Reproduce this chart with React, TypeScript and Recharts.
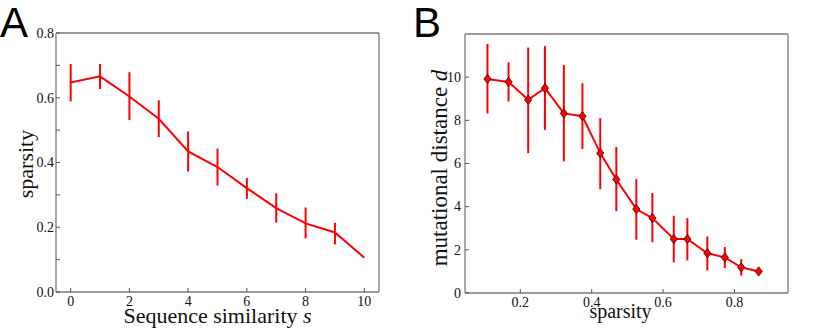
import React from 'react';
import { LineChart, Line, XAxis, YAxis, ErrorBar } from 'recharts';

// panel A: sparsity vs sequence similarity
const similarity = [0, 1, 2, 3, 4, 5, 6, 7, 8, 9, 10];
const sparsityMean = [0.647, 0.666, 0.604, 0.535, 0.434, 0.386, 0.321, 0.259, 0.212, 0.184, 0.106];
const sparsityLow = [0.589, 0.627, 0.531, 0.478, 0.372, 0.329, 0.288, 0.214, 0.165, 0.147, 0.106];
const sparsityHigh = [0.704, 0.704, 0.679, 0.592, 0.496, 0.443, 0.352, 0.305, 0.261, 0.214, 0.106];
const aXTicks = [0, 2, 4, 6, 8, 10];
const aYTicks = [0, 0.1, 0.2, 0.3, 0.4, 0.5, 0.6, 0.7, 0.8];
const aYLabelled = [0, 0.2, 0.4, 0.6, 0.8];

// panel B: mutational distance vs sparsity
const bSparsity = [0.108, 0.167, 0.222, 0.269, 0.322, 0.374, 0.424, 0.469, 0.525, 0.57, 0.63, 0.668, 0.724, 0.773, 0.819, 0.868];
const distMean = [9.92, 9.78, 8.95, 9.49, 8.32, 8.19, 6.48, 5.26, 3.89, 3.47, 2.5, 2.5, 1.84, 1.65, 1.19, 1.0];
const distLow = [8.32, 8.87, 6.48, 7.56, 6.1, 6.67, 4.81, 3.8, 2.47, 2.35, 1.42, 1.51, 1.05, 1.16, 0.8, 1.0];
const distHigh = [11.54, 10.69, 11.37, 11.44, 10.56, 9.72, 8.1, 6.76, 5.28, 4.63, 3.58, 3.47, 2.62, 2.13, 1.57, 1.0];
const bXTicks = [0.2, 0.4, 0.6, 0.8];
const bYTicks = [0, 2, 4, 6, 8, 10];

const dataA = similarity.map((s, i) => ({
  s,
  v: sparsityMean[i],
  err: [sparsityMean[i] - sparsityLow[i], sparsityHigh[i] - sparsityMean[i]],
}));

const dataB = bSparsity.map((x, i) => ({
  x,
  v: distMean[i],
  err: [distMean[i] - distLow[i], distHigh[i] - distMean[i]],
}));

const SERIF = '"Liberation Serif", "DejaVu Serif", serif';
const RED = '#ff0000';
const SPINE = '#7a7a7a';

// tick text drawn by hand so the serif font sticks
const makeTick = (side: 'bottom' | 'left', fmt: (v: number) => string) => (props: any) => {
  const { x, y, payload } = props;
  return (
    <text
      x={x}
      y={y}
      dy={side === 'bottom' ? '0.72em' : '0.34em'}
      textAnchor={side === 'bottom' ? 'middle' : 'end'}
      fontFamily={SERIF}
      fontSize={14}
      fill="#111"
    >
      {fmt(payload.value)}
    </text>
  );
};

const Diamond = (props: any) => {
  const { cx, cy, index } = props;
  if (cx == null || cy == null) return <g key={`d-${index}`} />;
  const w = 3.6;
  const h = 4.6;
  return (
    <polygon
      key={`d-${index}`}
      points={`${cx},${cy - h} ${cx + w},${cy} ${cx},${cy + h} ${cx - w},${cy}`}
      fill={RED}
      stroke="#3a0000"
      strokeWidth={0.8}
    />
  );
};

const xLabel = (parts: React.ReactNode, baseline: number, size: number, shift = 0) => (props: any) => {
  const vb = props.viewBox;
  return (
    <text x={vb.x + vb.width / 2 + shift} y={baseline} textAnchor="middle" fontFamily={SERIF} fontSize={size} fill="#111">
      {parts}
    </text>
  );
};

const yLabel = (parts: React.ReactNode, baseX: number, centerY: number, size: number) => () => (
  <text
    x={baseX}
    y={centerY}
    transform={`rotate(-90 ${baseX} ${centerY})`}
    textAnchor="middle"
    fontFamily={SERIF}
    fontSize={size}
    fill="#111"
  >
    {parts}
  </text>
);

const spine = { stroke: SPINE, strokeWidth: 1.3 };
const tickMark = { stroke: '#555' };
const fmtA = (v: number) => (aYLabelled.some((t) => Math.abs(t - v) < 1e-6) ? v.toFixed(1) : '');

const PanelA = () => (
  <LineChart width={400} height={335} data={dataA} margin={{ top: 32, right: 20, bottom: 0, left: 0 }}>
    <XAxis
      dataKey="s"
      type="number"
      domain={[-0.5, 10.5]}
      allowDataOverflow
      ticks={aXTicks}
      tickSize={-4}
      tickMargin={8}
      tick={makeTick('bottom', (v) => String(v))}
      height={43}
      axisLine={spine}
      tickLine={tickMark}
      label={xLabel(
        <>
          Sequence similarity <tspan fontStyle="italic">s</tspan>
        </>,
        323,
        22
      )}
    />
    <XAxis
      xAxisId="top"
      dataKey="s"
      orientation="top"
      type="number"
      domain={[-0.5, 10.5]}
      allowDataOverflow
      ticks={aXTicks}
      tickSize={-4}
      tick={false}
      height={1}
      axisLine={spine}
      tickLine={tickMark}
    />
    <YAxis
      type="number"
      domain={[0, 0.8]}
      allowDataOverflow
      ticks={aYTicks}
      tickSize={-4}
      tickMargin={6}
      tick={makeTick('left', fmtA)}
      width={56}
      axisLine={spine}
      tickLine={tickMark}
      label={yLabel('sparsity', 33, 164, 22)}
    />
    <YAxis
      yAxisId="right"
      orientation="right"
      type="number"
      domain={[0, 0.8]}
      allowDataOverflow
      ticks={aYTicks}
      tickSize={-4}
      tick={false}
      width={1}
      axisLine={spine}
      tickLine={tickMark}
    />
    <Line
      xAxisId="top"
      yAxisId="right"
      dataKey="v"
      stroke="none"
      dot={false}
      activeDot={false}
      legendType="none"
      isAnimationActive={false}
    />
    <Line type="linear" dataKey="v" stroke={RED} strokeWidth={2} dot={false} isAnimationActive={false}>
      <ErrorBar dataKey="err" direction="y" width={0} stroke={RED} strokeWidth={2} />
    </Line>
  </LineChart>
);

const PanelB = () => (
  <LineChart width={420} height={335} data={dataB} margin={{ top: 33, right: 41, bottom: 0, left: 0 }}>
    <XAxis
      dataKey="x"
      type="number"
      domain={[0.045, 0.95]}
      allowDataOverflow
      ticks={bXTicks}
      tickSize={-4}
      tickMargin={8}
      tick={makeTick('bottom', (v) => v.toFixed(1))}
      height={42}
      axisLine={spine}
      tickLine={tickMark}
      label={xLabel('sparsity', 318, 20, -6)}
    />
    <XAxis
      xAxisId="top"
      dataKey="x"
      orientation="top"
      type="number"
      domain={[0.045, 0.95]}
      allowDataOverflow
      ticks={bXTicks}
      tickSize={-4}
      tick={false}
      height={1}
      axisLine={spine}
      tickLine={tickMark}
    />
    <YAxis
      type="number"
      domain={[0, 12]}
      allowDataOverflow
      ticks={bYTicks}
      tickSize={-4}
      tickMargin={8}
      tick={makeTick('left', (v) => String(v))}
      width={55}
      axisLine={spine}
      tickLine={tickMark}
      label={yLabel(
        <>
          mutational distance <tspan fontStyle="italic">d</tspan>
        </>,
        37,
        168,
        23
      )}
    />
    <YAxis
      yAxisId="right"
      orientation="right"
      type="number"
      domain={[0, 12]}
      allowDataOverflow
      ticks={bYTicks}
      tickSize={-4}
      tick={false}
      width={1}
      axisLine={spine}
      tickLine={tickMark}
    />
    <Line
      xAxisId="top"
      yAxisId="right"
      dataKey="v"
      stroke="none"
      dot={false}
      activeDot={false}
      legendType="none"
      isAnimationActive={false}
    />
    <Line type="linear" dataKey="v" stroke={RED} strokeWidth={2} dot={<Diamond />} isAnimationActive={false}>
      <ErrorBar dataKey="err" direction="y" width={0} stroke={RED} strokeWidth={2} />
    </Line>
  </LineChart>
);

export default function App() {
  return (
    <div
      style={{
        position: 'absolute',
        left: 0,
        top: 0,
        width: 830,
        height: 335,
        background: '#fff',
        fontFamily: SERIF,
      }}
    >
      <div style={{ position: 'absolute', left: 0, top: 0 }}>
        <PanelA />
      </div>
      <div style={{ position: 'absolute', left: 410, top: 0 }}>
        <PanelB />
      </div>
      <svg width={830} height={335} style={{ position: 'absolute', left: 0, top: 0, pointerEvents: 'none' }}>
        <text x={0} y={37} fontFamily='"Liberation Sans", Arial, sans-serif' fontSize={42} fill="#000">
          A
        </text>
        <text x={413} y={37} fontFamily='"Liberation Sans", Arial, sans-serif' fontSize={42} fill="#000">
          B
        </text>
      </svg>
    </div>
  );
}
